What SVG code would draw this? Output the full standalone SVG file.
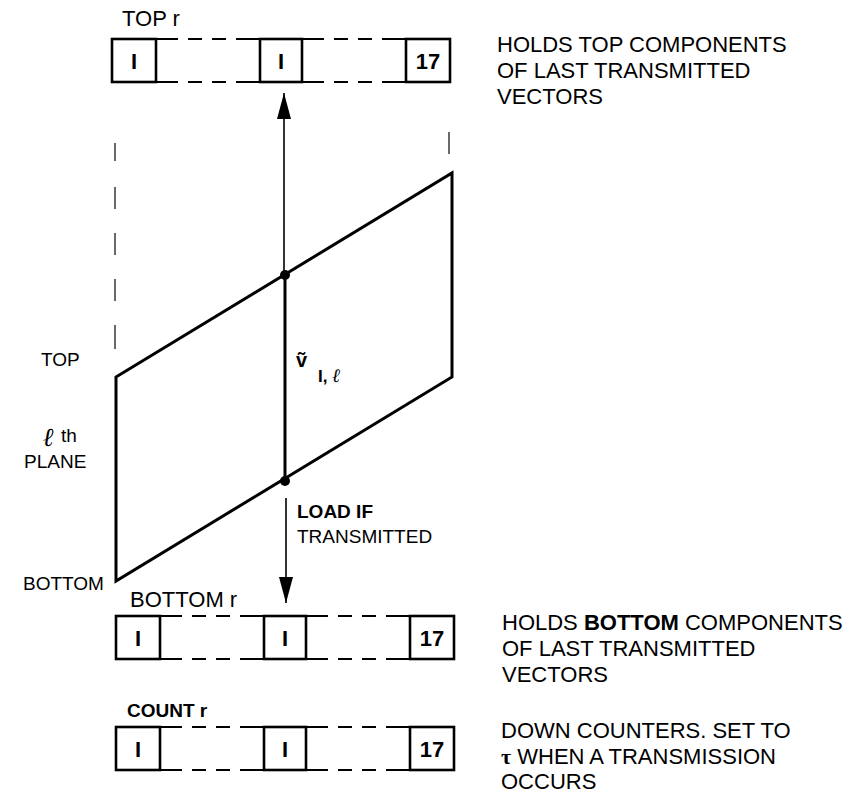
<svg xmlns="http://www.w3.org/2000/svg" width="849" height="795" viewBox="0 0 849 795">
<style>
text{font-family:"Liberation Sans",Arial,sans-serif;fill:#000}
.lbl{font-size:22px}
.sm{font-size:19px}
.b{font-weight:bold}
.cell{fill:none;stroke:#000;stroke-width:2.6}
.dash{fill:none;stroke:#000;stroke-width:2.2;stroke-dasharray:22 10 14 10 14 10 24}
.num{font-size:22px;font-weight:bold;text-anchor:middle}
.plane{fill:none;stroke:#000;stroke-width:3;stroke-linejoin:miter}
.thin{stroke:#000;stroke-width:1.6;fill:none}
.guide{stroke:#444;stroke-width:1.6;fill:none}
</style>
<defs>
<marker id="ah" viewBox="0 0 26 14" refX="26" refY="7" markerWidth="26" markerHeight="14" markerUnits="userSpaceOnUse" orient="auto">
<path d="M0,0 L26,7 L0,14 Z" fill="#000"/>
</marker>
<g id="regShape">
<rect class="cell" x="0" y="0" width="44" height="43"/>
<rect class="cell" x="148" y="0" width="42" height="43"/>
<rect class="cell" x="294" y="0" width="44" height="43"/>
<path class="dash" d="M44,0 H148 M44,43 H148 M190,0 H294 M190,43 H294"/>
<text class="num" x="22" y="30">I</text>
<text class="num" x="169" y="30">I</text>
<text class="num" x="316" y="30">17</text>
</g>
</defs>

<g id="top-register">
<text class="lbl" x="122" y="26">TOP r</text>
<use href="#regShape" x="112" y="39"/>
</g>
<g id="top-register-note">
<text class="lbl" x="497" y="52">HOLDS TOP COMPONENTS</text>
<text class="lbl" x="497" y="78">OF LAST TRANSMITTED</text>
<text class="lbl" x="497" y="104">VECTORS</text>
</g>

<g id="plane">
<path class="plane" d="M116,377 L452,173 L452,377 L116,581 Z"/>
<path class="guide" d="M115,143 V161 M115,187 V209 M115,233 V255 M115,279 V301 M115,325 V349"/>
<path class="guide" d="M449,132 V154"/>
<text class="sm" x="41" y="366">TOP</text>
<text x="43" y="446" style="font-family:'Liberation Serif',serif;font-style:italic;font-weight:bold;font-size:26px">ℓ</text>
<text class="sm" x="61" y="442">th</text>
<text class="sm" x="24" y="468">PLANE</text>
<text class="sm" x="23" y="590">BOTTOM</text>
</g>

<g id="vector">
<line x1="285" y1="275" x2="285" y2="481" stroke="#000" stroke-width="3"/>
<circle cx="285" cy="275" r="5" fill="#000"/>
<circle cx="285" cy="481" r="5" fill="#000"/>
<text x="296" y="367" style="font-weight:bold;font-size:20px">ṽ</text>
<text x="318" y="382" style="font-weight:bold;font-size:17px">I, <tspan style="font-family:'Liberation Serif',serif;font-style:italic;font-size:19px">ℓ</tspan></text>
</g>

<g id="connectors">
<line class="thin" x1="284" y1="275" x2="284" y2="93" marker-end="url(#ah)"/>
<line class="thin" x1="286" y1="498" x2="286" y2="603" marker-end="url(#ah)"/>
</g>

<g id="load-label">
<text class="sm b" x="297" y="518">LOAD IF</text>
<text class="sm" x="297" y="543">TRANSMITTED</text>
</g>

<g id="bottom-register">
<text class="lbl" x="130" y="607">BOTTOM r</text>
<use href="#regShape" x="116" y="616"/>
</g>
<g id="bottom-register-note">
<text class="lbl" x="502" y="630">HOLDS <tspan class="b">BOTTOM</tspan> COMPONENTS</text>
<text class="lbl" x="502" y="656">OF LAST TRANSMITTED</text>
<text class="lbl" x="502" y="682">VECTORS</text>
</g>

<g id="count-register">
<text class="sm b" x="127" y="717">COUNT r</text>
<use href="#regShape" x="116" y="727"/>
</g>
<g id="count-register-note">
<text class="lbl" x="501" y="738">DOWN COUNTERS. SET TO</text>
<text class="lbl" x="501" y="764"><tspan style="font-family:'Liberation Serif',serif;font-weight:bold">τ</tspan> WHEN A TRANSMISSION</text>
<text class="lbl" x="501" y="789">OCCURS</text>
</g>
</svg>
